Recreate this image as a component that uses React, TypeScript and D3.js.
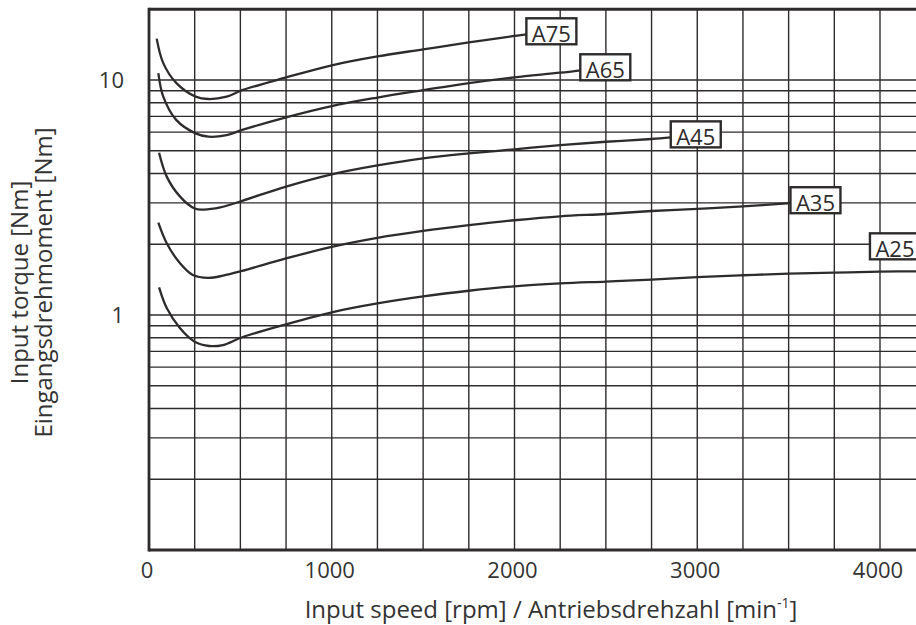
import React from 'react';
import * as d3 from 'd3';

// speed [rpm], torque [Nm]
const a75: [number, number][] = [
  [42, 15.0], [78, 11.8], [150, 9.7], [255, 8.5], [325, 8.3], [425, 8.5], [510, 9.05],
  [750, 10.25], [1000, 11.55], [1250, 12.6], [1500, 13.5], [1750, 14.45], [2000, 15.4], [2065, 15.65],
];
const a65: [number, number][] = [
  [51, 10.7], [78, 8.5], [150, 6.75], [255, 5.93], [325, 5.74], [425, 5.83], [510, 6.13],
  [750, 6.94], [1000, 7.75], [1250, 8.42], [1500, 9.05], [1750, 9.7], [2000, 10.27], [2250, 10.74], [2360, 11.0],
];
const a45: [number, number][] = [
  [55, 4.9], [97, 3.88], [170, 3.19], [250, 2.84], [300, 2.81], [390, 2.87], [510, 3.06],
  [750, 3.52], [1000, 3.97], [1250, 4.33], [1500, 4.64], [1750, 4.87], [2000, 5.07], [2250, 5.28],
  [2500, 5.46], [2750, 5.61], [2855, 5.7],
];
const a35: [number, number][] = [
  [51, 2.47], [97, 2.02], [170, 1.66], [240, 1.48], [325, 1.44], [405, 1.47], [510, 1.54],
  [750, 1.74], [1000, 1.95], [1250, 2.13], [1500, 2.28], [1750, 2.41], [2000, 2.53], [2250, 2.63],
  [2500, 2.69], [2750, 2.77], [3000, 2.83], [3250, 2.9], [3510, 2.99],
];
const a25: [number, number][] = [
  [55, 1.31], [97, 1.07], [170, 0.878], [250, 0.77], [330, 0.738], [405, 0.745], [510, 0.804],
  [750, 0.913], [1000, 1.027], [1250, 1.12], [1500, 1.2], [1750, 1.268], [2000, 1.325], [2250, 1.362],
  [2500, 1.388], [2750, 1.415], [3000, 1.45], [3250, 1.476], [3500, 1.499], [3750, 1.514], [4000, 1.529],
  [4250, 1.535],
];

const seriesNames = ['A75', 'A65', 'A45', 'A35', 'A25'];
const seriesPoints = [a75, a65, a45, a35, a25];
// where a label sits when it is not at the end of its curve
const labelAt: ([number, number] | null)[] = [null, null, null, null, [3945, 1.96]];

const speedTicks = [0, 1000, 2000, 3000, 4000];
const torqueTicks = [1, 10];
const speedStep = 250;
const torqueMax = 20;

const FONT = '"Open Sans", "Noto Sans", sans-serif';
const INK = '#2e2b2b';

export default function App() {
  const width = 916;
  const height = 625;

  const x = d3.scaleLinear().domain([0, 4000]).range([149, 880]);
  const y = d3.scaleLog().domain([0.1, torqueMax]).range([550, 550 - 235 * Math.log10(torqueMax / 0.1)]);

  const plotLeft = x(0);
  const plotRight = width + 4;
  const plotTop = y(torqueMax);
  const plotBottom = y(0.1);

  const vGrid = d3.range(speedStep, x.invert(plotRight), speedStep);
  const hGrid = y.ticks().filter((t) => t > 0.1 && t < torqueMax);

  const line = d3
    .line<[number, number]>()
    .x((d) => x(d[0]))
    .y((d) => y(d[1]))
    .curve(d3.curveCatmullRom.alpha(0.5));

  return (
    <svg
      width={width}
      height={height}
      style={{ position: 'absolute', left: 0, top: 0, display: 'block', background: '#fff' }}
      fontFamily={FONT}
    >
      {/* grid */}
      <g stroke={INK} strokeWidth={1.4}>
        {vGrid.map((s) => (
          <line key={'v' + s} x1={x(s)} x2={x(s)} y1={plotTop} y2={plotBottom} />
        ))}
        {hGrid.map((t) => (
          <line key={'h' + t} x1={plotLeft} x2={plotRight} y1={y(t)} y2={y(t)} />
        ))}
      </g>

      {/* frame */}
      <g stroke={INK} strokeWidth={2.8} fill="none">
        <line x1={plotLeft} x2={plotRight} y1={plotTop} y2={plotTop} />
        <line x1={plotLeft} x2={plotRight} y1={plotBottom} y2={plotBottom} />
        <line x1={plotLeft} x2={plotLeft} y1={plotTop - 1.4} y2={plotBottom + 1.4} />
      </g>

      {/* curves */}
      <g fill="none" stroke={INK} strokeWidth={2.3}>
        {seriesPoints.map((pts, i) => (
          <path key={seriesNames[i]} d={line(pts) || undefined} />
        ))}
      </g>

      {/* curve labels */}
      {seriesPoints.map((pts, i) => {
        const anchor = labelAt[i] ?? pts[pts.length - 1];
        const bx = x(anchor[0]);
        const by = y(anchor[1]) - (labelAt[i] ? 0 : 3);
        return (
          <g key={'lab' + seriesNames[i]}>
            <rect x={bx} y={by - 13} width={50} height={26} fill="#fff" stroke={INK} strokeWidth={2.4} />
            <text x={bx + 25} y={by + 10.5} textAnchor="middle" fontSize={22} fill={INK}>
              {seriesNames[i]}
            </text>
          </g>
        );
      })}

      {/* tick labels */}
      <g fontSize={22} fill="#333">
        {speedTicks.map((s) => (
          <text key={'xt' + s} x={x(s) - 2} y={578} textAnchor="middle">
            {s}
          </text>
        ))}
        {torqueTicks.map((t) => (
          <text key={'yt' + t} x={124} y={y(t) + 8} textAnchor="end">
            {t}
          </text>
        ))}
      </g>

      {/* axis titles */}
      <text x={551} y={618} textAnchor="middle" fontSize={24} fill="#333">
        Input speed [rpm] / Antriebsdrehzahl [min
        <tspan fontSize={14} dy={-10}>-1</tspan>
        <tspan dy={10}>]</tspan>
      </text>
      <text transform="translate(28,282.5) rotate(-90)" textAnchor="middle" fontSize={24} fill="#333">
        Input torque [Nm]
      </text>
      <text transform="translate(51.5,282.5) rotate(-90)" textAnchor="middle" fontSize={24} fill="#333">
        Eingangsdrehmoment [Nm]
      </text>
    </svg>
  );
}
